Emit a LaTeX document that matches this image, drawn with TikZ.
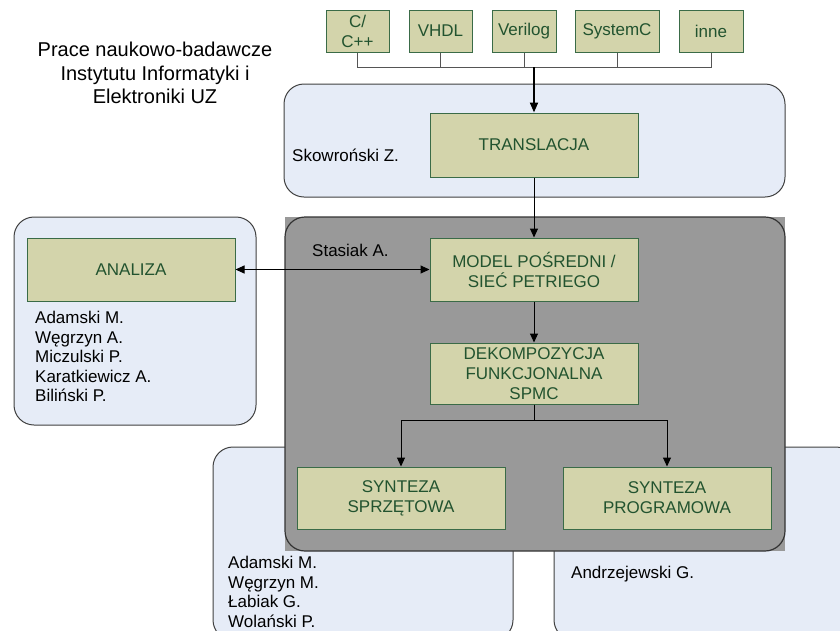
\documentclass[tikz,border=0pt]{standalone}
\usepackage{fontspec}
\setmainfont{Liberation Sans}
\usetikzlibrary{arrows.meta}

\definecolor{stagefill}{HTML}{D3D4AB}
\definecolor{stageline}{HTML}{3A6B47}
\definecolor{stagetext}{HTML}{22532F}
\definecolor{teamfill}{HTML}{E6ECF7}
\definecolor{teamline}{HTML}{404040}
\definecolor{corefill}{HTML}{999999}
\definecolor{coreline}{HTML}{333333}
\definecolor{busline}{HTML}{555555}

\tikzset{
  stage/.style={draw=stageline, fill=stagefill, text=stagetext, line width=1pt,
    minimum width=208pt, minimum height=63pt, inner sep=0pt, align=center,
    font=\fontsize{17}{20}\selectfont},
  lang/.style={stage, minimum height=42pt, minimum width=63pt},
  team/.style={draw=teamline, fill=teamfill, line width=1pt, rectangle,
    rounded corners=20pt, inner sep=0pt},
  names/.style={anchor=north west, align=left, inner sep=0pt,
    font=\fontsize{17}{19.5}\selectfont},
  flow/.style={-{Triangle[length=9pt,width=8pt]}, line width=1pt},
  busline/.style={draw=busline, line width=1pt},
}

\begin{document}
\begin{tikzpicture}[x=1pt, y=-1pt]
  \useasboundingbox (0,0) rectangle (840,630);
  \clip (0,0) rectangle (840,630);

  % research teams (light blue panels)
  \node[team, minimum width=300pt, minimum height=193pt] (hwteam) at (363,543.5) {};
  \node[team, minimum width=302pt, minimum height=193pt] (swteam) at (705,543.5) {};
  \node[team, minimum width=501pt, minimum height=113pt] (trteam) at (534.5,140.5) {};
  \node[team, minimum width=242pt, minimum height=208pt] (anteam) at (135,321) {};

  % core of the flow (grey panel on a square grey backing)
  \fill[corefill] (285,217) rectangle (785,551);
  \node[draw=coreline, fill=corefill, line width=1.2pt, rectangle, rounded corners=20pt,
        minimum width=500pt, minimum height=334pt, inner sep=0pt] (core) at (535,384) {};

  % title
  \node[anchor=north, align=center, inner sep=0pt,
        font=\fontsize{20}{23.5}\selectfont] (title) at (155,42)
    {Prace naukowo-badawcze\\Instytutu Informatyki i\\Elektroniki UZ};

  % input languages
  \node[lang] (cpp) at (357.5,31) {C/\\C++};
  \node[lang] (vhdl) at (440.5,31) {VHDL};
  \node[lang, minimum width=64pt] (verilog) at (524,31) {Verilog};
  \node[lang, minimum width=84pt] (systemc) at (617,31) {SystemC};
  \node[lang, minimum width=64pt] (inne) at (711,31) {inne};

  % processing stages
  \node[stage, minimum height=64pt] (trans) at (534,145) {TRANSLACJA};
  \node[stage] (model) at (534,269.5) {MODEL POŚREDNI /\\SIEĆ PETRIEGO};
  \node[stage, minimum height=61pt] (dekomp) at (534,373.5) {DEKOMPOZYCJA\\FUNKCJONALNA\\SPMC};
  \node[stage, minimum height=62pt] (sprz) at (401,498) {SYNTEZA\\SPRZĘTOWA};
  \node[stage, minimum height=62pt] (prog) at (667,498) {SYNTEZA\\PROGRAMOWA};
  \node[stage] (analiza) at (131,269.5) {ANALIZA};

  % people
  \node[names] (skow) at (292,149) {Skowroński Z.};
  \node[names] (stas) at (312,244) {Stasiak A.};
  \node[names] (anpeople) at (35,311)
    {Adamski M.\\Węgrzyn A.\\Miczulski P.\\Karatkiewicz A.\\Biliński P.};
  \node[names] (hwpeople) at (228,556)
    {Adamski M.\\Węgrzyn M.\\Łabiak G.\\Wolański P.};
  \node[names] (swpeople) at (571,566) {Andrzejewski G.};

  % bus collecting the input languages
  \coordinate (busy) at (0,67);
  \coordinate (tap) at (534,67);
  \draw[busline] (cpp.south) |- (inne.south |- busy) -- (inne.south);
  \draw[busline] (vhdl.south) -- (vhdl.south |- busy);
  \draw[busline] (verilog.south) -- (verilog.south |- busy);
  \draw[busline] (systemc.south) -- (systemc.south |- busy);
  \draw[-{Triangle[length=10pt,width=8pt]}, line width=2pt] (tap) -- (trans.north);

  % flow between stages
  \draw[flow] (trans.south) -- (model.north);
  \draw[{Triangle[length=9pt,width=8pt]}-{Triangle[length=9pt,width=8pt]}, line width=1pt]
    (analiza.east) -- (model.west);
  \draw[flow] (model.south) -- (dekomp.north);
  \draw[flow] (dekomp.south) -- ++(0,16) -| (sprz.north);
  \draw[flow] (dekomp.south) -- ++(0,16) -| (prog.north);
\end{tikzpicture}
\end{document}
